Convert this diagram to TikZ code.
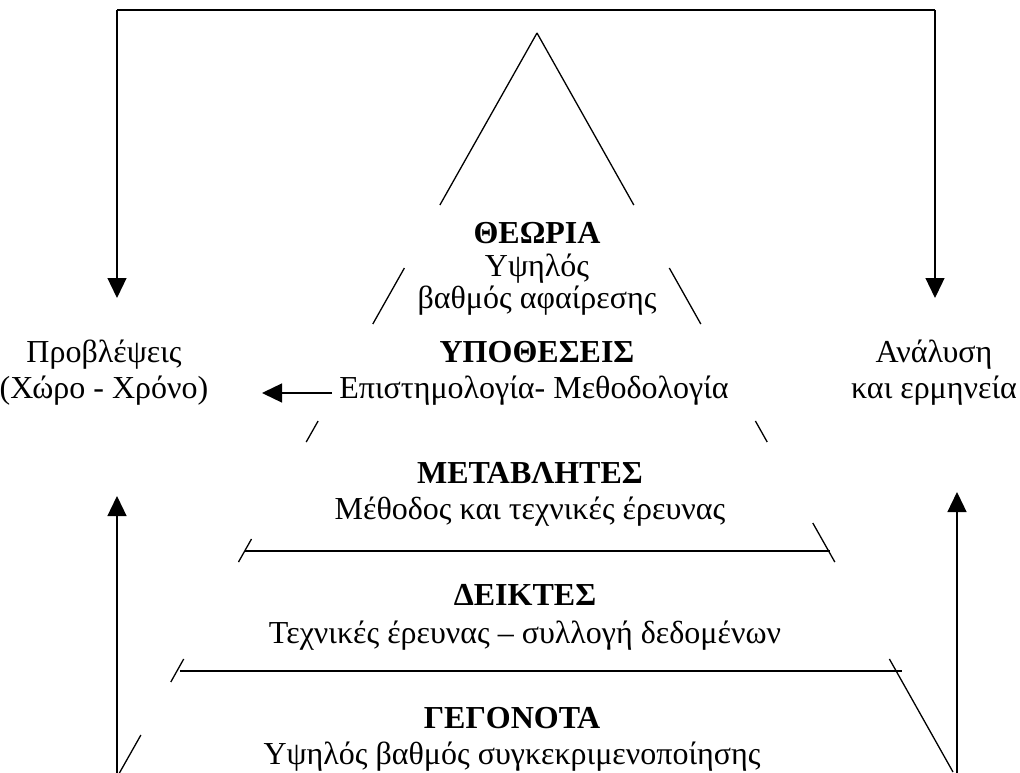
\documentclass[tikz,border=0pt]{standalone}
\usepackage{fontspec}
\setmainfont{Liberation Serif}
\usetikzlibrary{arrows.meta}
\tikzset{
  ln/.style={line width=1.3pt},
  arr/.style={line width=1.3pt,-{Triangle[length=20pt,width=19pt]}},
  ttl/.style={anchor=base,inner sep=0pt,font=\fontsize{32}{38}\selectfont\bfseries},
  txt/.style={anchor=base,inner sep=0pt,font=\fontsize{32}{38}\selectfont},
}
\begin{document}
\begin{tikzpicture}[x=1pt,y=-1pt]
\useasboundingbox (0,0) rectangle (1020,773);
% texts
\node[ttl] (theo) at (537,243) {ΘΕΩΡΙΑ};
\node[txt] (theo1) at (537,276) {Υψηλός};
\node[txt] (theo2) at (537,308) {βαθμός αφαίρεσης};
\node[ttl] (hyp) at (537,362) {ΥΠΟΘΕΣΕΙΣ};
\node[txt] (hyp1) at (534,398) {Επιστημολογία- Μεθοδολογία};
\node[ttl] (var) at (530,483) {ΜΕΤΑΒΛΗΤΕΣ};
\node[txt] (var1) at (530,519) {Μέθοδος και τεχνικές έρευνας};
\node[ttl] (ind) at (525,605) {ΔΕΙΚΤΕΣ};
\node[txt] (ind1) at (525,643) {Τεχνικές έρευνας – συλλογή δεδομένων};
\node[ttl] (fact) at (512,728) {ΓΕΓΟΝΟΤΑ};
\node[txt] (fact1) at (512,764) {Υψηλός βαθμός συγκεκριμενοποίησης};
\node[txt] (pred) at (104,362) {Προβλέψεις};
\node[txt] (pred1) at (104,398) {(Χώρο - Χρόνο)};
\node[txt] (ana) at (934,362) {Ανάλυση};
\node[txt] (ana1) at (934,398) {και ερμηνεία};
% triangle edges (broken by texts)
\draw[ln] (537,33) -- (439.9,205);
\draw[ln] (537,33) -- (633.8,205);
\draw[ln] (404.4,268) -- (372.8,324);
\draw[ln] (669.3,268) -- (700.8,324);
\draw[ln] (318.1,421) -- (306.2,442);
\draw[ln] (755.4,421) -- (767.2,442);
\draw[ln] (251.5,539) -- (238.5,562);
\draw[ln] (812.8,523) -- (834.8,562);
\draw[ln] (183.7,659) -- (170.8,682);
\draw[ln] (889.4,659) -- (953,772);
\draw[ln] (140.9,735) -- (119.4,773);
% horizontal layer lines
\draw[ln] (245,551) -- (830,551);
\draw[ln] (180,671) -- (902,671);
% frame arrows
\coordinate (tl) at (117,10);
\coordinate (tr) at (935,10);
\coordinate (pl) at (117,298);
\coordinate (pr) at (935,298);
\draw[arr] (tl) -- (pl);
\draw[arr] (tr) -- (pr);
\draw[ln] (tl) -- (tr);
\draw[line width=2.4pt] (477,10) -- (572,10);
\coordinate (bl) at (117,773);
\coordinate (blt) at (117,496);
\coordinate (br) at (957,773);
\coordinate (brt) at (957,492);
\draw[arr] (bl) -- (blt);
\draw[arr] (br) -- (brt);
\coordinate (ha) at (332,393);
\coordinate (hb) at (262,393);
\draw[arr] (ha) -- (hb);
\end{tikzpicture}
\end{document}
